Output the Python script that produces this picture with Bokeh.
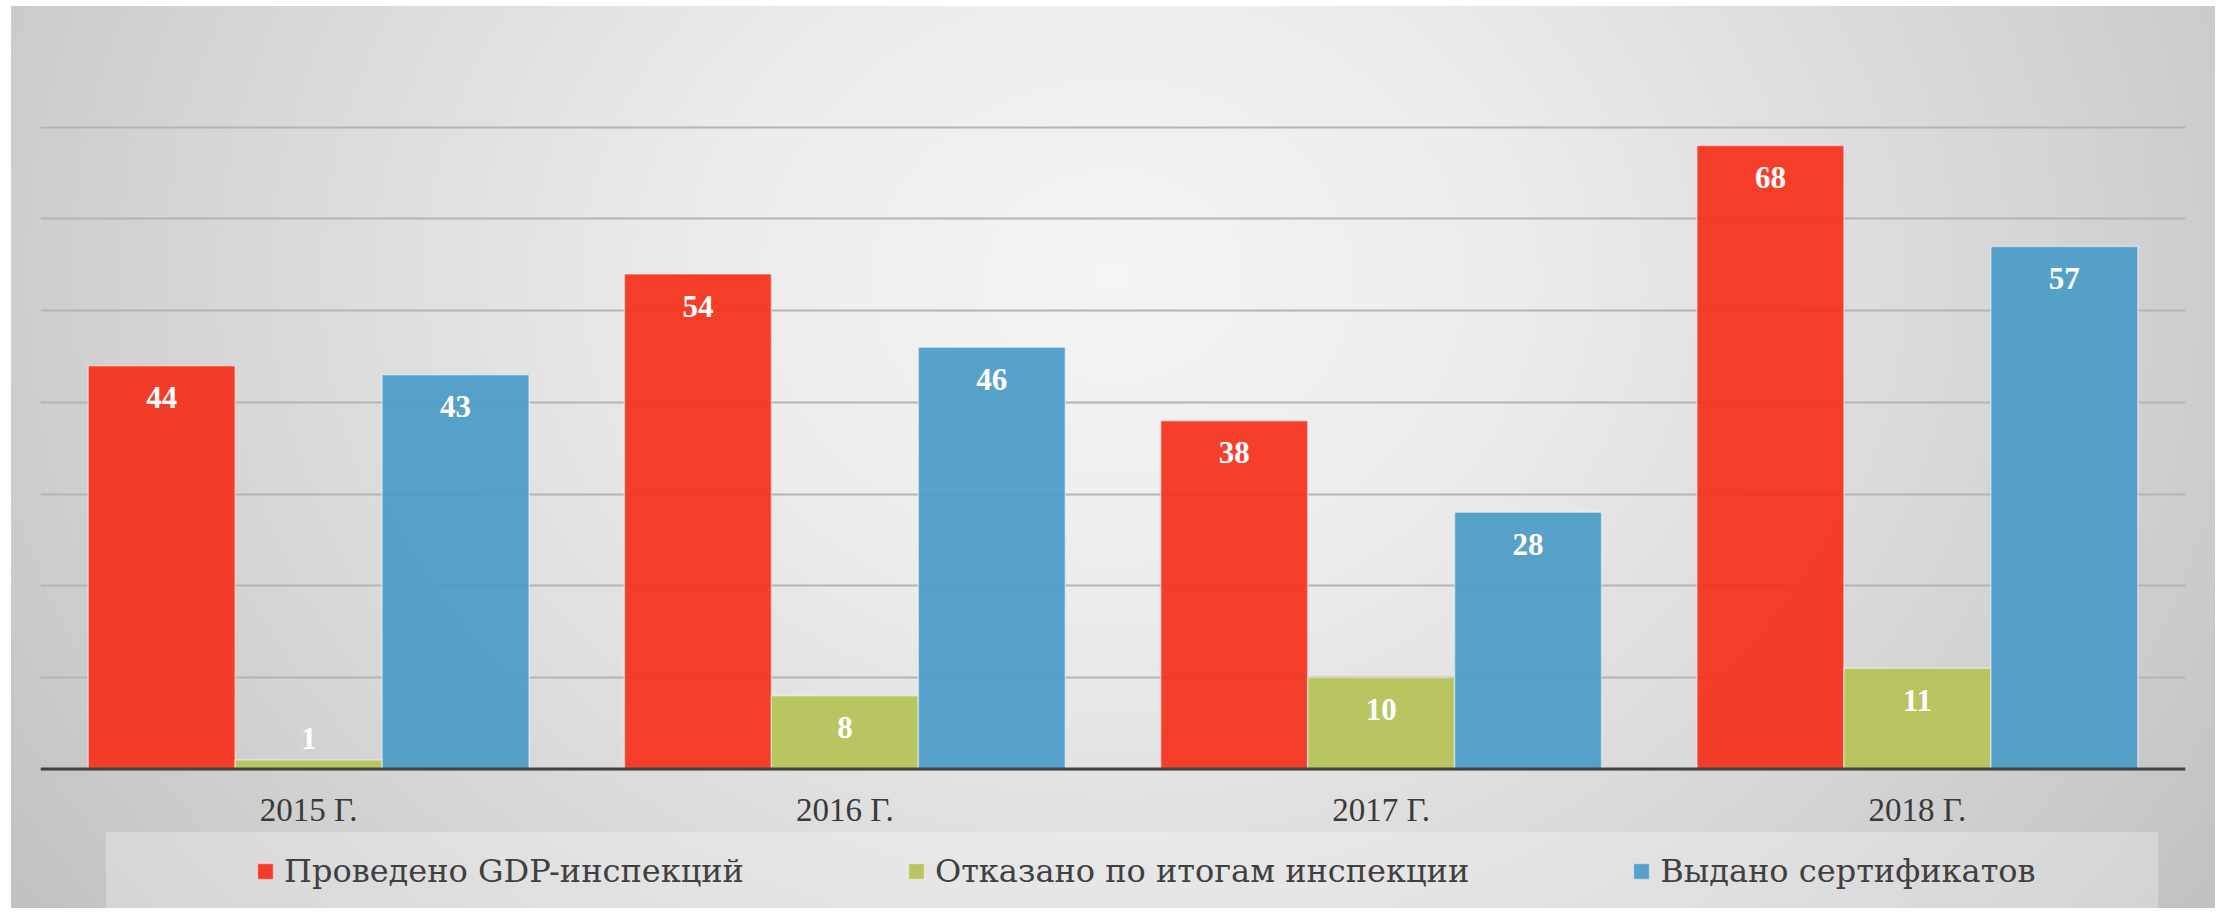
from bokeh.plotting import figure
from bokeh.models import (FactorRange, Range1d, Legend, LegendItem, ColumnDataSource,
                          SingleIntervalTicker, Span)
from bokeh.transform import dodge
from bokeh.core.properties import value
from bokeh.embed import file_html
from bokeh.resources import INLINE

# ---- data ----
years = ["2015 Г.", "2016 Г.", "2017 Г.", "2018 Г."]
series_names = ["Проведено GDP-инспекций", "Отказано по итогам инспекции", "Выдано сертификатов"]
inspections = [44, 54, 38, 68]
refused = [1, 8, 10, 11]
certificates = [43, 46, 28, 57]
series_values = [inspections, refused, certificates]
colors = ["#F53520", "#B6C35A", "#4E9DC8"]
offsets = [-0.274, 0.0, 0.274]

p = figure(x_range=FactorRange(*years, range_padding=0), y_range=Range1d(-15.2, 80),
           width=2204, height=902, output_backend="svg", toolbar_location=None,
           min_border_left=29, min_border_right=30, min_border_top=29, min_border_bottom=0)
p.margin = (6, 9, 4, 11)
p.background_fill_alpha = 0
p.border_fill_alpha = 0
p.outline_line_color = None
p.styles = {
    "background": "linear-gradient(rgba(255,255,255,0.28), rgba(255,255,255,0.28)) 95px 826px / 2052px 76px no-repeat, "
                  "radial-gradient(ellipse 60% 120% at 50% 30%, #f4f4f4 0%, #ececec 30%, #d4d4d4 72%, #c2c2c2 100%)"
}

p.xaxis.visible = False
p.yaxis.visible = False
p.xgrid.visible = False
p.ygrid.ticker = SingleIntervalTicker(interval=10)
p.ygrid.bounds = (0, 80)
p.ygrid.grid_line_color = "#b4b4b4"
p.ygrid.grid_line_width = 2

items = []
for name, vals, col, off in zip(series_names, series_values, colors, offsets):
    src = ColumnDataSource(dict(
        x=years, top=vals,
        ly=[max(v - 3.5, 3.3) for v in vals],
        lab=[str(v) for v in vals]))
    r = p.vbar(x=dodge("x", off, range=p.x_range), top="top", width=0.274, source=src,
               fill_color=col, fill_alpha=0.95, line_color="#ffffff", line_alpha=0.45, line_width=1.5)
    p.text(x=dodge("x", off, range=p.x_range), y="ly", text="lab", source=src,
           text_color="white", text_font=value("Liberation Serif"), text_font_style="bold",
           text_font_size="31px", text_align="center", text_baseline="middle")
    items.append(LegendItem(label=name, renderers=[r]))

# category axis: baseline and labels
p.add_layout(Span(location=0, dimension="width", line_color="#434343", line_width=3))
cat_src = ColumnDataSource(dict(x=years, y=[0] * len(years), t=years))
p.text(x="x", y="y", text="t", source=cat_src, y_offset=41,
       text_color="#3a3a3a", text_font=value("Liberation Serif"), text_font_size="33px",
       text_align="center", text_baseline="middle")

legend = Legend(items=items, orientation="horizontal", location=(215, 18),
                glyph_width=20, glyph_height=20, label_standoff=9, spacing=162,
                padding=0, margin=0, background_fill_alpha=0, border_line_alpha=0,
                label_text_font="DejaVu Serif", label_text_font_size="32px",
                label_text_color="#404040")
p.add_layout(legend, "center")

open("out.html", "w").write(file_html(p, INLINE))
